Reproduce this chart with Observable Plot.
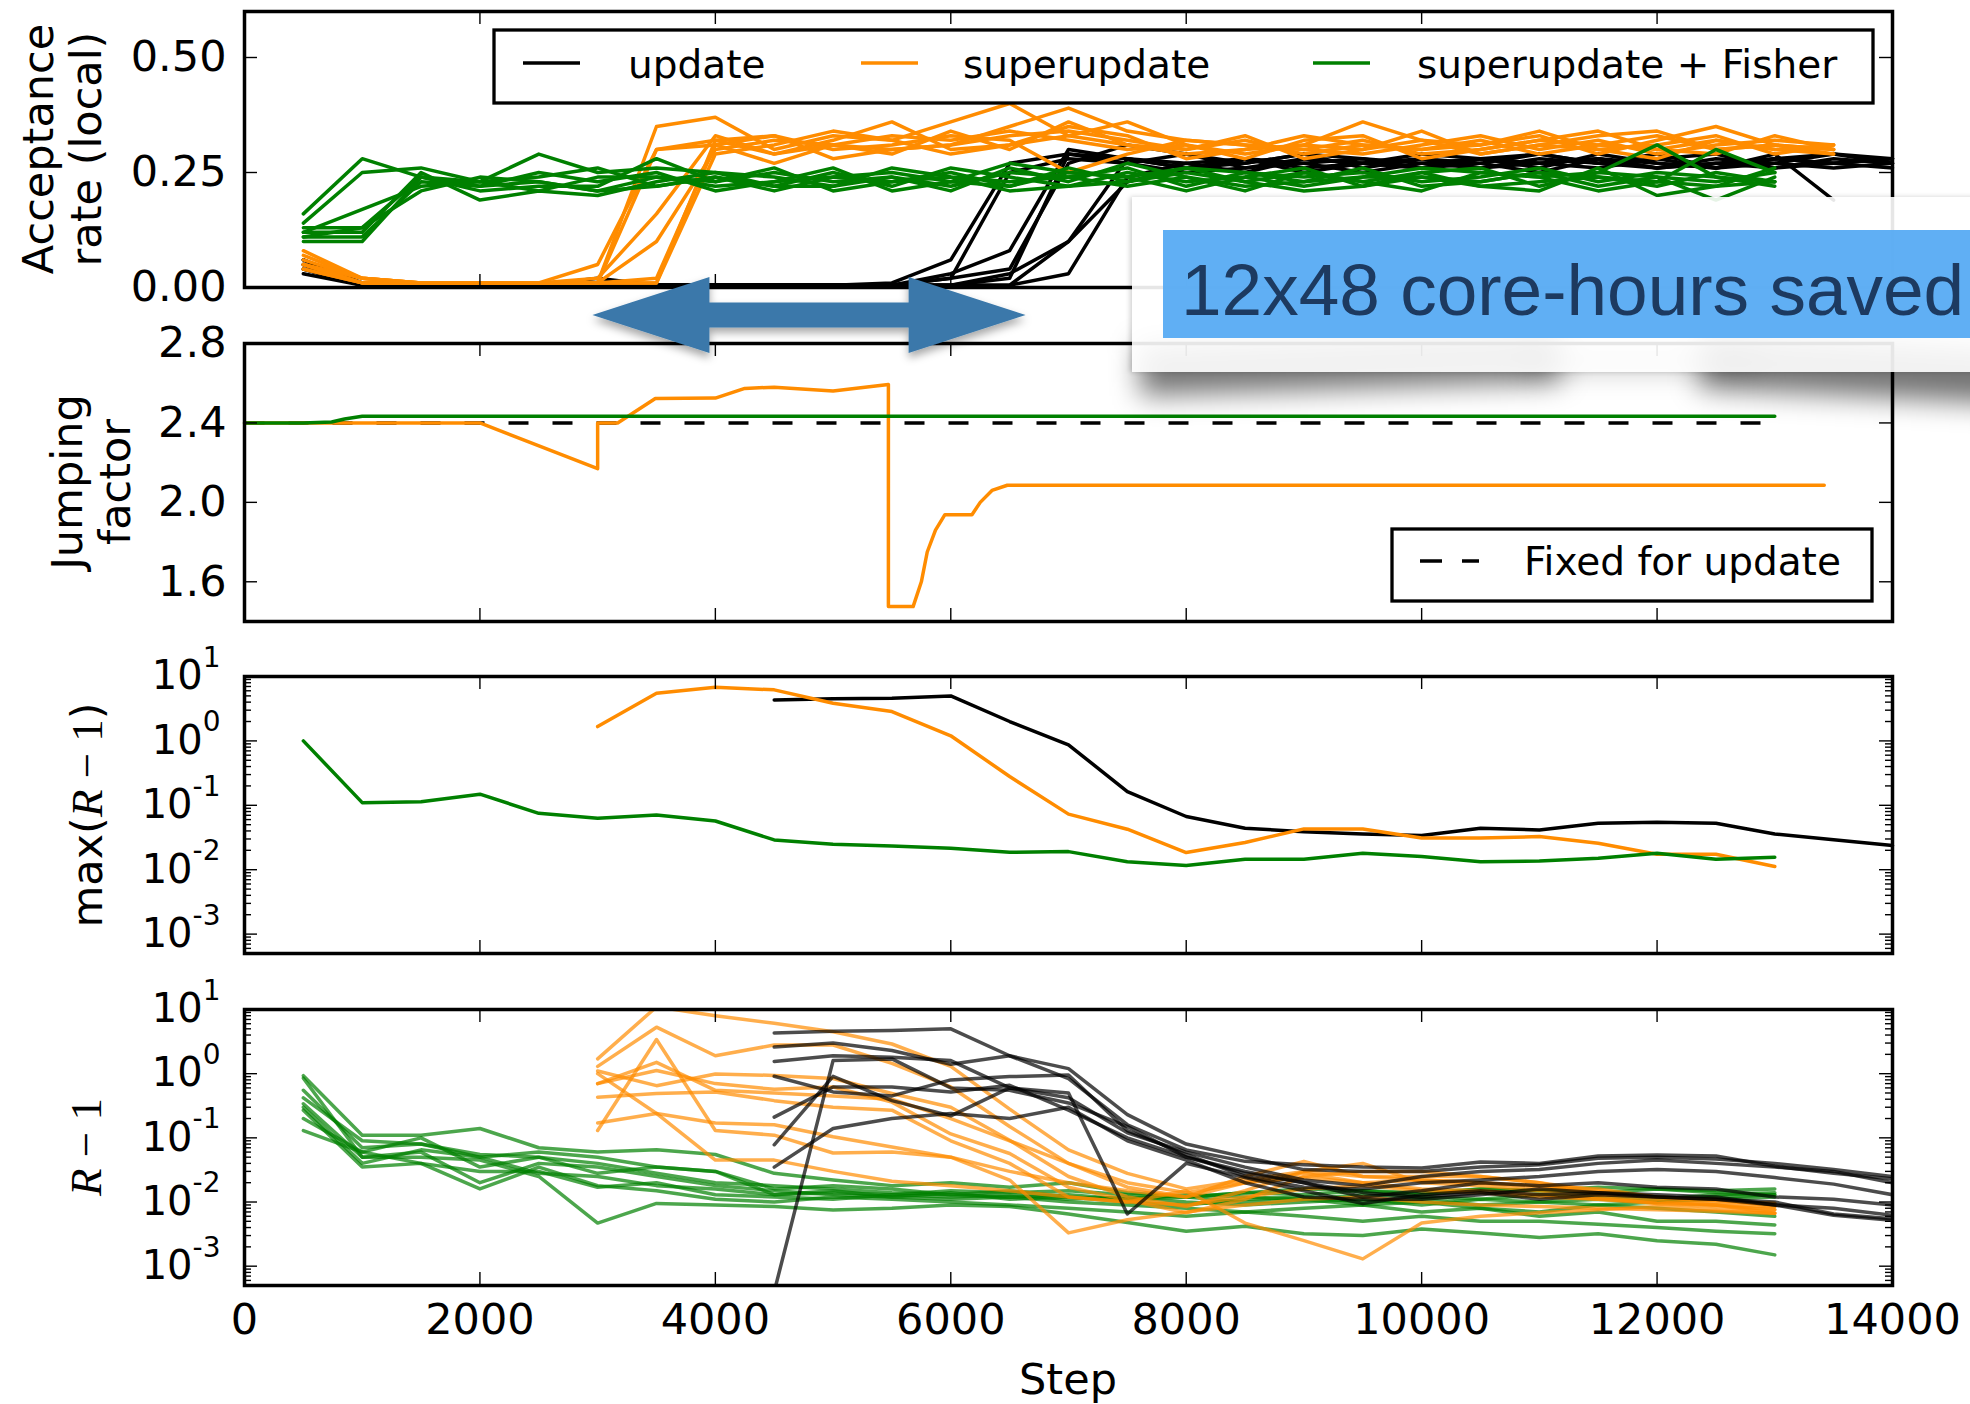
<!DOCTYPE html>
<html><head><meta charset="utf-8">
<script src="https://cdn.jsdelivr.net/npm/d3@7"></script>
<script src="https://cdn.jsdelivr.net/npm/@observablehq/plot@0.6"></script>
<style>
html,body{margin:0;padding:0;background:#fff;overflow:hidden;}
#root{position:relative;width:1970px;height:1404px;font-family:"DejaVu Sans",sans-serif;overflow:hidden;}
.panel{position:absolute;left:0;}
.panel svg{overflow:visible;display:block;}
#overlay{position:absolute;left:0;top:0;pointer-events:none;}
.shadow{position:absolute;background:rgba(0,0,0,0.55);filter:blur(14px);}
#callout{position:absolute;left:1132px;top:197px;width:900px;height:175px;background:rgba(255,255,255,0.9);box-shadow:-2px 0 5px rgba(0,0,0,0.18);}
#callout-blue{position:absolute;left:31px;top:33px;width:900px;height:108px;background:rgba(90,172,244,0.96);}
#callout-text{position:absolute;left:18px;top:0;font-family:"Liberation Sans",Arial,sans-serif;font-size:73px;line-height:108px;padding-top:6px;color:#1d3a60;white-space:nowrap;}
</style></head>
<body><div id="root"></div>
<script>
// ---------------- data ----------------
const stepGrid = [500,1000,1500,2000,2500,3000,3500,4000,4500,5000,5500,6000,6500,7000,7500,8000,8500,9000,9500,10000,10500,11000,11500,12000,12500,13000,13500,14000];
const xTickValues = [0,2000,4000,6000,8000,10000,12000,14000];
const methods = ["update","superupdate","superupdate + Fisher"];
const methodColors = ["#000000","#ff8c00","#008000"];

// Panel 1: acceptance rate (local), per run, all starting at step 500
const accUpdate = [
 [.06,.005,.005,.005,.005,.005,.005,.005,.005,.005,.01,.06,.27,.29,.28,.26,.27,.29,.28,.27,.26,.28,.27,.29,.26,.28,.27,.28],
 [.05,.005,.005,.005,.005,.005,.005,.005,.005,.005,.005,.03,.08,.30,.28,.27,.28,.26,.27,.29,.28,.27,.28,.26,.27,.26,.28,.27],
 [.04,.005,.005,.005,.005,.02,.005,.005,.005,.005,.005,.005,.02,.29,.27,.25,.26,.28,.27,.26,.28,.29,.27,.26,.28,.27,.26,.27],
 [.03,.005,.005,.005,.005,.005,.005,.005,.005,.005,.005,.005,.03,.10,.28,.26,.28,.27,.25,.27,.28,.26,.29,.27,.26,.28,.29,.27],
 [.05,.005,.005,.005,.005,.005,.005,.005,.005,.005,.005,.005,.005,.03,.24,.27,.25,.28,.27,.26,.28,.27,.26,.28,.29,.26,.27,.28],
 [.04,.005,.005,.005,.005,.005,.005,.005,.005,.005,.005,.02,.04,.27,.31,.29,.27,.29,.26,.28,.27,.25,.28,.27,.26,.29,.19],
 [.05,.005,.005,.005,.005,.005,.005,.005,.005,.005,.005,.005,.005,.10,.23,.26,.28,.25,.27,.28,.26,.27,.28,.26,.27,.28,.27,.26],
 [.06,.01,.005,.005,.005,.005,.005,.005,.005,.005,.005,.02,.25,.28,.27,.29,.26,.27,.28,.26,.27,.29,.27,.28,.26,.27,.29,.28]
];
const accSuper = [
 [.08,.02,.01,.01,.01,.01,.35,.37,.30,.33,.32,.36,.40,.33,.31,.29,.30,.33,.31,.30,.32,.29,.31,.33,.30,.31,.30],
 [.05,.01,.01,.01,.01,.05,.30,.31,.33,.28,.30,.31,.33,.34,.32,.30,.33,.28,.30,.34,.29,.31,.30,.28,.32,.30,.29],
 [.04,.01,.01,.01,.01,.01,.30,.32,.29,.32,.36,.30,.31,.33,.36,.31,.29,.31,.36,.32,.31,.33,.29,.32,.35,.31,.30],
 [.04,.01,.01,.01,.01,.01,.01,.32,.33,.30,.31,.33,.32,.25,.29,.32,.31,.30,.29,.31,.33,.30,.32,.29,.31,.32,.31],
 [.05,.02,.01,.01,.01,.01,.02,.31,.27,.31,.33,.32,.34,.32,.30,.31,.28,.32,.33,.28,.30,.32,.34,.30,.29,.33,.30],
 [.07,.02,.01,.01,.01,.01,.10,.30,.32,.31,.29,.34,.30,.36,.31,.30,.32,.29,.31,.30,.31,.34,.30,.31,.33,.29,.31],
 [.05,.01,.01,.01,.01,.01,.01,.29,.31,.34,.32,.29,.31,.35,.33,.28,.30,.31,.30,.32,.29,.31,.33,.34,.30,.31,.29],
 [.06,.02,.01,.01,.01,.02,.16,.33,.29,.31,.30,.31,.35,.39,.34,.32,.31,.30,.32,.29,.30,.32,.31,.30,.32,.30,.31]
];
const accFisher = [
 [.16,.28,.24,.22,.23,.21,.24,.22,.23,.24,.25,.23,.27,.25,.24,.26,.25,.23,.24,.26,.25,.24,.25,.31,.24,.23],
 [.14,.25,.26,.23,.29,.25,.26,.25,.22,.25,.22,.26,.24,.22,.25,.23,.24,.26,.22,.24,.23,.25,.24,.23,.30,.25],
 [.13,.13,.24,.21,.22,.22,.28,.23,.25,.23,.24,.22,.25,.24,.26,.22,.25,.24,.25,.23,.24,.26,.23,.25,.24,.22],
 [.12,.17,.22,.23,.24,.26,.22,.24,.21,.24,.23,.25,.22,.26,.23,.25,.23,.25,.23,.25,.26,.22,.25,.24,.19,.24],
 [.12,.12,.25,.19,.21,.20,.23,.25,.24,.22,.26,.24,.23,.24,.22,.24,.22,.23,.26,.22,.23,.25,.22,.24,.23,.25],
 [.11,.11,.23,.22,.25,.23,.25,.21,.23,.26,.21,.23,.22,.25,.24,.21,.24,.22,.24,.24,.22,.23,.24,.22,.25,.23],
 [.11,.13,.21,.24,.23,.21,.22,.24,.22,.22,.24,.21,.26,.23,.27,.24,.21,.25,.23,.21,.25,.24,.21,.23,.22,.26],
 [.10,.10,.24,.23,.21,.24,.24,.23,.26,.21,.23,.24,.21,.22,.23,.26,.23,.21,.22,.25,.22,.21,.26,.20,.22,.23]
];

// Panel 2: jumping factor
const jumpSuperSteps = [0,2000,3000,3000,3170,3490,4000,4250,4500,5000,5470,5470,5680,5750,5800,5870,5950,6180,6250,6350,6480,13420];
const jumpSuperVals  = [2.40,2.40,2.17,2.40,2.40,2.523,2.525,2.574,2.58,2.561,2.594,1.475,1.475,1.60,1.75,1.86,1.938,1.938,2.00,2.06,2.086,2.086];
const jumpFisherSteps = [0,500,740,850,1000,13000];
const jumpFisherVals  = [2.40,2.40,2.405,2.42,2.434,2.434];
const jumpFixedSteps = [0,13000];
const jumpFixedVals  = [2.4,2.4];

// Panel 3: max(R-1)
const maxUpdate = [4.33,4.5,4.6,5.0,2.0,0.87,0.163,0.067,0.044,0.039,0.0359,0.0339,0.044,0.0414,0.0526,0.0545,0.0526,0.0359,0.0292,0.0238]; // from 4500
const maxSuper  = [1.67,5.5,6.8,6.2,3.85,2.86,1.2,0.28,0.073,0.0425,0.0185,0.0264,0.043,0.043,0.031,0.031,0.0327,0.0257,0.0174,0.0174,0.0112]; // from 3000
const maxFisher = [1.0,0.11,0.114,0.149,0.075,0.063,0.071,0.057,0.029,0.0249,0.0234,0.0215,0.0186,0.0191,0.0133,0.0116,0.0145,0.0145,0.018,0.016,0.0133,0.0136,0.0151,0.018,0.0145,0.0156]; // from 500

// Panel 4: R-1 per parameter
const rUpdate = [ // from 4500
 [4.3,4.6,4.7,5.0,1.9,0.84,0.16,0.065,0.043,0.038,0.035,0.034,0.042,0.04,0.052,0.054,0.052,0.036,0.028,0.023],
 [2.6,3.0,2.3,1.4,1.9,1.2,0.23,0.08,0.05,0.032,0.03,0.03,0.035,0.038,0.048,0.05,0.047,0.04,0.032,0.025],
 [1.55,1.9,1.8,1.6,0.6,0.42,0.12,0.06,0.035,0.022,0.018,0.025,0.03,0.032,0.04,0.045,0.04,0.035,0.03,0.02],
 [0.91,0.52,0.45,0.8,0.9,0.95,0.13,0.055,0.025,0.017,0.016,0.02,0.022,0.025,0.03,0.032,0.03,0.024,0.019,0.013],
 [0.21,0.62,0.62,0.52,0.66,0.27,0.1,0.05,0.03,0.02,0.012,0.015,0.02,0.018,0.02,0.017,0.016,0.012,0.011,0.009],
 [0.078,0.91,0.38,0.22,0.6,0.5,0.0065,0.04,0.024,0.015,0.0095,0.013,0.015,0.013,0.014,0.013,0.012,0.009,0.008,0.0062],
 [0.035,0.14,0.2,0.24,0.2,0.3,0.09,0.045,0.02,0.012,0.011,0.011,0.013,0.016,0.014,0.012,0.011,0.01,0.0065,0.0055],
 [0.0004,1.6,1.7,0.6,0.55,0.35,0.15,0.05,0.028,0.02,0.014,0.012,0.014,0.011,0.013,0.012,0.011,0.009,0.0062,0.0052]
];
const rSuper = [ // from 3000
 [1.7,11,8.0,6.1,4.5,2.9,1.3,0.28,0.065,0.028,0.016,0.022,0.03,0.025,0.022,0.02,0.018,0.016,0.012,0.011,0.0085],
 [1.3,5.3,1.9,2.8,2.8,1.45,0.62,0.15,0.04,0.017,0.012,0.025,0.043,0.025,0.025,0.025,0.02,0.015,0.012,0.01,0.0096],
 [1.1,0.65,0.99,0.94,0.84,0.49,0.3,0.092,0.025,0.012,0.0085,0.015,0.03,0.04,0.02,0.018,0.015,0.012,0.0095,0.0085,0.0076],
 [0.7,1.12,0.7,0.57,0.62,0.36,0.115,0.057,0.017,0.0107,0.0068,0.011,0.025,0.03,0.03,0.025,0.02,0.013,0.011,0.009,0.0067],
 [0.43,0.49,0.52,0.38,0.3,0.27,0.09,0.04,0.012,0.01,0.015,0.0047,0.0025,0.0013,0.0047,0.006,0.0068,0.0076,0.0085,0.0076,0.0067],
 [0.17,0.24,0.17,0.16,0.104,0.072,0.05,0.022,0.0033,0.0053,0.007,0.009,0.011,0.012,0.01,0.009,0.0085,0.008,0.0076,0.0072,0.0067],
 [0.13,3.4,0.13,0.11,0.058,0.06,0.05,0.03,0.02,0.015,0.012,0.02,0.024,0.02,0.016,0.015,0.013,0.011,0.0095,0.009,0.0085],
 [1.0,0.24,0.045,0.045,0.03,0.021,0.018,0.015,0.012,0.01,0.009,0.012,0.016,0.018,0.015,0.014,0.012,0.011,0.01,0.009,0.0076],
 [0.7,1.5,0.55,0.5,0.45,0.4,0.2,0.09,0.04,0.02,0.014,0.02,0.028,0.02,0.022,0.02,0.017,0.014,0.012,0.0105,0.0095]
];
const rFisher = [ // from 500
 [.93,.11,.11,.14,.07,.06,.065,.055,.028,.022,.018,.02,.017,.02,.014,.012,.014,.016,.015,.013,.016,.015,.017,.016,.015,.016],
 [.55,.07,.08,.05,.06,.05,.035,.03,.016,.018,.016,.013,.015,.012,.011,.013,.012,.011,.013,.012,.011,.013,.012,.011,.013,.014],
 [.34,.05,.06,.02,.04,.035,.025,.018,.015,.013,.012,.014,.011,.012,.010,.009,.011,.012,.010,.011,.009,.010,.011,.010,.012,.013],
 [.27,.035,.04,.03,.03,.017,.02,.013,.012,.011,.013,.012,.013,.011,.012,.010,.009,.010,.011,.009,.011,.010,.009,.010,.011,.012],
 [.42,.09,.08,.055,.05,.04,.028,.02,.018,.016,.014,.013,.012,.013,.011,.012,.010,.011,.009,.010,.008,.007,.009,.008,.007,.006],
 [.20,.06,.10,.035,.05,.028,.035,.03,.013,.015,.012,.011,.012,.010,.009,.008,.007,.008,.009,.007,.008,.006,.007,.005,.005,.0044],
 [.13,.06,.04,.016,.035,.018,.015,.011,.010,.012,.011,.010,.009,.008,.007,.006,.007,.006,.005,.006,.005,.005,.0045,.004,.0035,.0032],
 [.85,.05,.05,.045,.025,.0047,.0095,.009,.0085,.0075,.008,.009,.0085,.0065,.0048,.0035,.0042,.0032,.003,.0038,.0033,.0028,.0032,.0025,.0022,.0015],
 [.30,.04,.065,.05,.028,.025,.018,.016,.013,.014,.013,.015,.014,.015,.013,.012,.014,.013,.015,.014,.016,.015,.014,.016,.014,.013]
];

const arrowSpan = [2960, 6640];
const calloutText = "12x48 core-hours saved";

// ---------------- helpers ----------------
const W = 1970, ML = 244, MR = 78, PW = W - ML - MR;
const TICK_MAJOR = 13, TICK_MINOR = 7, LW = 3.5;
const baseStyle = {fontFamily: "DejaVu Sans", fontSize: "43px", background: "transparent", overflow: "visible"};

function runRows(runs, firstStep, key) {
  const i0 = stepGrid.indexOf(firstStep);
  return runs.flatMap((vals, r) => vals.map((v, i) => ({step: stepGrid[i0 + i], value: v, run: key + r})));
}
function seriesRows(steps, vals) { return steps.map((s, i) => ({step: s, value: vals[i]})); }

function tickMarks(H, yMajor, yMinor) {
  const st = {stroke: "black", strokeWidth: 1.4};
  const m = [
    Plot.ruleX(xTickValues, {...st, insetTop: H - TICK_MAJOR}),
    Plot.ruleX(xTickValues, {...st, insetBottom: H - TICK_MAJOR}),
    Plot.ruleY(yMajor, {...st, insetRight: PW - TICK_MAJOR}),
    Plot.ruleY(yMajor, {...st, insetLeft: PW - TICK_MAJOR})
  ];
  if (yMinor) m.push(
    Plot.ruleY(yMinor, {...st, insetRight: PW - TICK_MINOR}),
    Plot.ruleY(yMinor, {...st, insetLeft: PW - TICK_MINOR}));
  return m;
}
const logMajor = [1e-3, 1e-2, 1e-1, 1, 10];
const logMinor = [];
[1e-4, 1e-3, 1e-2, 1e-1, 1].forEach(d => [2,3,4,5,6,7,8,9].forEach(k => { const v = d * k; if (v >= 5e-4 && v <= 10) logMinor.push(v); }));

function superscript(svg) {
  svg.querySelectorAll('g[aria-label="y-axis tick label"] text').forEach(t => {
    const m = /^10\^(-?\d+)$/.exec(t.textContent);
    if (!m) return;
    t.textContent = "10";
    const ts = document.createElementNS("http://www.w3.org/2000/svg", "tspan");
    ts.setAttribute("font-size", "28");
    ts.setAttribute("dy", "-0.8em");
    ts.textContent = m[1];
    t.appendChild(ts);
  });
}

const root = document.getElementById("root");
function place(svg, top) {
  const d = document.createElement("div");
  d.className = "panel"; d.style.top = top + "px";
  d.appendChild(svg); root.appendChild(d);
  return svg;
}
const yAxisOpts = {anchor: "left", tickSize: 0, tickPadding: 18, label: null, fontSize: 43};

// ---------------- panel 1 ----------------
const p1 = Plot.plot({
  width: W, height: 290, marginLeft: ML, marginRight: MR, marginTop: 11, marginBottom: 3,
  x: {domain: [0, 14000], axis: null},
  y: {domain: [0, 0.6], axis: null},
  style: baseStyle,
  marks: [
    Plot.line(runRows(accUpdate, 500, "u"), {x: "step", y: "value", z: "run", stroke: methodColors[0], strokeWidth: LW}),
    Plot.line(runRows(accSuper, 500, "s"), {x: "step", y: "value", z: "run", stroke: methodColors[1], strokeWidth: LW}),
    Plot.line(runRows(accFisher, 500, "f"), {x: "step", y: "value", z: "run", stroke: methodColors[2], strokeWidth: LW}),
    ...tickMarks(276, [0, 0.25, 0.5]),
    Plot.axisY([0, 0.25, 0.5], {...yAxisOpts, tickFormat: d3.format(".2f")}),
    Plot.frame({stroke: "black", strokeWidth: 3.5})
  ]
});
place(p1, 0);

// ---------------- panel 2 ----------------
const p2 = Plot.plot({
  width: W, height: 294, marginLeft: ML, marginRight: MR, marginTop: 13, marginBottom: 3,
  x: {domain: [0, 14000], axis: null},
  y: {domain: [1.4, 2.8], axis: null},
  style: baseStyle,
  marks: [
    Plot.line(seriesRows(jumpFixedSteps, jumpFixedVals), {x: "step", y: "value", stroke: "black", strokeWidth: LW, strokeDasharray: "20,24", strokeLinecap: "butt"}),
    Plot.line(seriesRows(jumpSuperSteps, jumpSuperVals), {x: "step", y: "value", stroke: methodColors[1], strokeWidth: LW}),
    Plot.line(seriesRows(jumpFisherSteps, jumpFisherVals), {x: "step", y: "value", stroke: methodColors[2], strokeWidth: LW}),
    ...tickMarks(278, [1.6, 2.0, 2.4, 2.8]),
    Plot.axisY([1.6, 2.0, 2.4, 2.8], {...yAxisOpts, tickFormat: d3.format(".1f")}),
    Plot.frame({stroke: "black", strokeWidth: 3.5})
  ]
});
place(p2, 330);

// ---------------- panel 3 ----------------
const logFmt = d => "10^" + Math.round(Math.log10(d));
const logAxisOpts = {anchor: "left", tickSize: 0, tickPadding: 24, label: null, tickFormat: logFmt, fontSize: 40};
const p3 = Plot.plot({
  width: W, height: 296, marginLeft: ML, marginRight: MR, marginTop: 16, marginBottom: 3,
  x: {domain: [0, 14000], axis: null},
  y: {type: "log", domain: [5e-4, 10], axis: null},
  style: baseStyle,
  marks: [
    Plot.line(seriesRows(stepGrid.slice(8), maxUpdate), {x: "step", y: "value", stroke: methodColors[0], strokeWidth: LW}),
    Plot.line(seriesRows(stepGrid.slice(5, 26), maxSuper), {x: "step", y: "value", stroke: methodColors[1], strokeWidth: LW}),
    Plot.line(seriesRows(stepGrid.slice(0, 26), maxFisher), {x: "step", y: "value", stroke: methodColors[2], strokeWidth: LW}),
    ...tickMarks(277, logMajor, logMinor),
    Plot.axisY(logMajor, logAxisOpts),
    Plot.frame({stroke: "black", strokeWidth: 3.5})
  ]
});
superscript(p3);
place(p3, 660);

// ---------------- panel 4 ----------------
const p4 = Plot.plot({
  width: W, height: 414, marginLeft: ML, marginRight: MR, marginTop: 19, marginBottom: 119,
  x: {domain: [0, 14000], axis: null},
  y: {type: "log", domain: [5e-4, 10], axis: null},
  style: baseStyle,
  marks: [
    Plot.line(runRows(rFisher, 500, "f"), {x: "step", y: "value", z: "run", stroke: methodColors[2], strokeWidth: LW, strokeOpacity: 0.7, clip: true}),
    Plot.line(runRows(rSuper, 3000, "s"), {x: "step", y: "value", z: "run", stroke: methodColors[1], strokeWidth: LW, strokeOpacity: 0.7, clip: true}),
    Plot.line(runRows(rUpdate, 4500, "u"), {x: "step", y: "value", z: "run", stroke: methodColors[0], strokeWidth: LW, strokeOpacity: 0.7, clip: true}),
    ...tickMarks(276, logMajor, logMinor),
    Plot.axisY(logMajor, logAxisOpts),
    Plot.axisX(xTickValues, {anchor: "bottom", tickSize: 0, tickPadding: 18, label: null, tickFormat: d => String(d), fontSize: 43}),
    Plot.frame({stroke: "black", strokeWidth: 3.5})
  ]
});
superscript(p4);
place(p4, 990);

// ---------------- overlay: titles, legends, arrow ----------------
const ov = d3.select(root).append("svg").attr("id", "overlay").attr("width", W).attr("height", 1404)
  .attr("font-family", "DejaVu Sans");

function vLabel(x, y, parts) {
  const t = ov.append("text").attr("transform", `translate(${x},${y}) rotate(-90)`).attr("text-anchor", "middle");
  parts.forEach(p => {
    const s = t.append("tspan").text(p.t).attr("font-size", p.size || 43);
    if (p.serif) s.attr("font-family", "Liberation Serif, DejaVu Serif, serif");
    if (p.italic) s.attr("font-style", "italic");
  });
}
vLabel(53, 149, [{t: "Acceptance"}]);
vLabel(101, 149, [{t: "rate (local)"}]);
vLabel(82, 482, [{t: "Jumping"}]);
vLabel(130, 482, [{t: "factor"}]);
vLabel(102, 815, [{t: "max("}, {t: "R", serif: true, italic: true, size: 45}, {t: " \u2212 1", serif: true, size: 45}, {t: ")"}]);
vLabel(101, 1147, [{t: "R", serif: true, italic: true, size: 45}, {t: " \u2212 1", serif: true, size: 45}]);

ov.append("text").attr("x", ML + PW / 2).attr("y", 1394).attr("text-anchor", "middle").attr("font-size", 43).text("Step");

// legend 1
ov.append("rect").attr("x", 494).attr("y", 30).attr("width", 1379).attr("height", 73)
  .attr("fill", "white").attr("stroke", "black").attr("stroke-width", 3.3);
const leg1 = [[523, 628], [861, 963], [1313, 1417]];
methods.forEach((m, i) => {
  ov.append("line").attr("x1", leg1[i][0]).attr("x2", leg1[i][0] + 57).attr("y1", 63).attr("y2", 63)
    .attr("stroke", methodColors[i]).attr("stroke-width", 3.3);
  ov.append("text").attr("x", leg1[i][1]).attr("y", 78).attr("font-size", 39).text(m);
});
// legend 2
ov.append("rect").attr("x", 1392).attr("y", 529).attr("width", 480).attr("height", 72)
  .attr("fill", "white").attr("stroke", "black").attr("stroke-width", 3.3);
ov.append("line").attr("x1", 1420).attr("x2", 1479).attr("y1", 561).attr("y2", 561)
  .attr("stroke", "black").attr("stroke-width", 3.3).attr("stroke-dasharray", "22,20");
ov.append("text").attr("x", 1524).attr("y", 575).attr("font-size", 39).text("Fixed for update");

// double arrow (ends placed through the x scale)
const sx = p1.scale("x");
const a0 = sx.apply(arrowSpan[0]), a1 = sx.apply(arrowSpan[1]);
const cy = 315, hl = 117, hh = 38, sh = 12.5;
const defs = ov.append("defs");
const f = defs.append("filter").attr("id", "ash").attr("x", "-10%").attr("y", "-30%").attr("width", "120%").attr("height", "180%");
f.append("feDropShadow").attr("dx", 0).attr("dy", 5).attr("stdDeviation", 4).attr("flood-color", "#000").attr("flood-opacity", 0.35);
ov.append("polygon").attr("filter", "url(#ash)").attr("fill", "#3a78aa")
  .attr("points", [[a0, cy], [a0 + hl, cy - hh], [a0 + hl, cy - sh], [a1 - hl, cy - sh], [a1 - hl, cy - hh], [a1, cy],
                   [a1 - hl, cy + hh], [a1 - hl, cy + sh], [a0 + hl, cy + sh], [a0 + hl, cy + hh]].map(p => p.join(",")).join(" "));

// ---------------- callout ----------------
function div(cls, id, css) { const d = document.createElement("div"); if (cls) d.className = cls; if (id) d.id = id; Object.assign(d.style, css || {}); root.appendChild(d); return d; }
div("shadow", null, {left: "1140px", top: "338px", width: "420px", height: "50px", transform: "rotate(-2deg)"});
div("shadow", null, {left: "1520px", top: "350px", width: "240px", height: "20px", background: "rgba(0,0,0,0.25)"});
div("shadow", null, {left: "1700px", top: "342px", width: "330px", height: "54px", transform: "rotate(3deg)"});
const co = div(null, "callout");
const blue = document.createElement("div"); blue.id = "callout-blue"; co.appendChild(blue);
const ct = document.createElement("div"); ct.id = "callout-text"; ct.textContent = calloutText; blue.appendChild(ct);
</script>
</body></html>
